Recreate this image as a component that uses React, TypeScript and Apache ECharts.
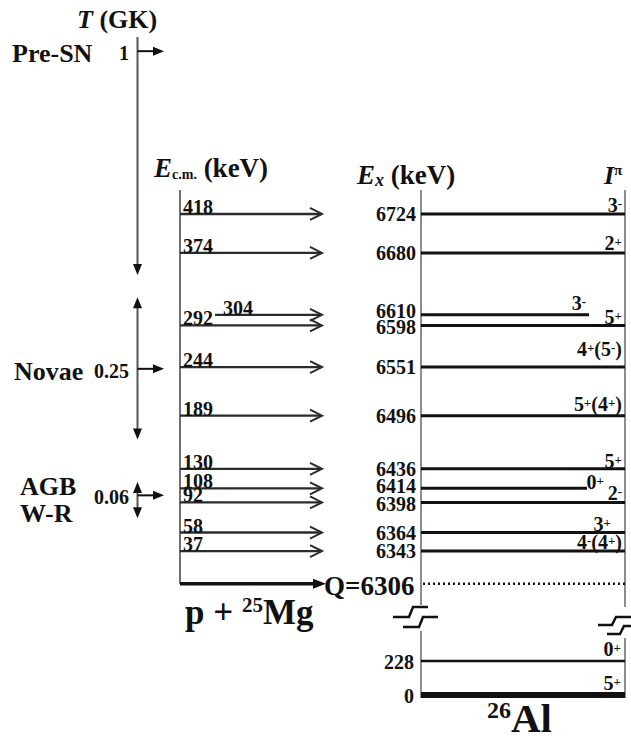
import React, { useEffect, useRef } from "react";
import * as echarts from "echarts";

// ---------------- data ----------------
const qValue = 6306; // p + 25Mg threshold in 26Al (keV)
const levelEx = [6724, 6680, 6610, 6598, 6551, 6496, 6436, 6414, 6398, 6364, 6343];
const levelSpin = ["3-", "2+", "3-", "5+", "4+(5-)", "5+(4+)", "5+", "0+", "2-", "3+", "4-(4+)"];
const resonanceEcm = [418, 374, 304, 292, 244, 189, 130, 108, 92, 58, 37];
const lowEx = [228, 0];
const lowSpin = ["0+", "5+"];
const siteNames = ["Pre-SN", "Novae", "AGB\nW-R"];
const siteTemps = ["1", "0.25", "0.06"];
const gamowEcm = [602, 243, 100];
const windowHighEcm = [618, 324, 115];
const windowLowEcm = [349, 163, 74];

// ---------------- layout / style ----------------
const FONT = '"Liberation Serif", "Times New Roman", Times, serif';
const font = (size: number, italic = false) => `${italic ? "italic " : ""}bold ${size}px ${FONT}`;
const INK = "#111";
const ARROW = "#2b2b2b";
const FRAME = "#707070";

const X = {
  tAxis: 137.5,
  tTip: 164,
  tLabelRight: 129,
  ecmAxis: 180,
  arrowTip: 322,
  exAxis: 421,
  exLabelRight: 416,
  qTip: 326,
  qLabelLeft: 324,
  dotStart: 423,
  dotEnd: 625,
  lowLabelRight: 414,
  lowSpinRight: 621,
};

type LevelLayout = {
  end: number;
  spinRight: number;
  spinDy: number;
  exDy: number;
  ecmLeft: number;
  arrowStart: number;
};
const levelDefault: LevelLayout = { end: 625, spinRight: 622, spinDy: -9, exDy: 0, ecmLeft: 183, arrowStart: 180 };
const levelOverrides: Record<number, Partial<LevelLayout>> = {
  1: { spinDy: -10 },
  2: { end: 589, spinRight: 586, spinDy: -12, exDy: -4, ecmLeft: 223, arrowStart: 215 },
  3: { spinDy: -8, exDy: 2 },
  4: { spinDy: -18 },
  5: { spinDy: -12 },
  6: { spinDy: -8 },
  7: { end: 587, spinRight: 604, spinDy: -6, exDy: -2 },
  8: { exDy: 1.5 },
  9: { spinRight: 611 },
};
const lay = (i: number): LevelLayout => ({ ...levelDefault, ...(levelOverrides[i] || {}) });

const siteLeft = [12, 14, 20];
const siteDy = [2, 3, 5];
const siteTopHead = [false, true, true];
const lowLineWidth = [2.5, 6];

function spinRich(s: string) {
  let out = "";
  let buf = "";
  const flush = () => {
    if (buf) out += `{n|${buf}}`;
    buf = "";
  };
  for (const ch of s) {
    if (ch === "+" || ch === "-") {
      flush();
      out += `{s|${ch}}`;
    } else buf += ch;
  }
  flush();
  return out;
}
const SPIN_RICH = {
  n: { font: font(20), fill: INK, lineHeight: 16 },
  s: { font: font(13), fill: INK, verticalAlign: "top", lineHeight: 16 },
};

const arrowHeadFilled = (tipX: number, tipY: number, dir: "right" | "down" | "up", len = 11, half = 4) => {
  let pts: number[][];
  if (dir === "right") pts = [[tipX - len, tipY - half], [tipX, tipY], [tipX - len, tipY + half]];
  else if (dir === "down") pts = [[tipX - half, tipY - len], [tipX, tipY], [tipX + half, tipY - len]];
  else pts = [[tipX - half, tipY + len], [tipX, tipY], [tipX + half, tipY + len]];
  return { type: "polygon", shape: { points: pts }, style: { fill: INK } };
};

export default function App() {
  const ref = useRef<HTMLDivElement>(null);

  useEffect(() => {
    if (!ref.current) return;
    const chart = echarts.init(ref.current, undefined, { renderer: "svg" });

    const option: any = {
      animation: false,
      backgroundColor: "#fff",
      grid: [
        { left: 0, top: 14, width: 631, height: 584 },
        { left: 0, top: 645.8, width: 631, height: 53.7 },
      ],
      xAxis: [
        { type: "value", gridIndex: 0, min: 0, max: 631, show: false },
        { type: "value", gridIndex: 1, min: 0, max: 631, show: false },
      ],
      yAxis: [
        { type: "value", gridIndex: 0, min: 6290, max: 6950, show: false },
        { type: "value", gridIndex: 1, min: -30, max: 330, show: false },
      ],
      series: [
        // excited levels of 26Al
        {
          type: "custom",
          xAxisIndex: 0,
          yAxisIndex: 0,
          silent: true,
          data: levelEx.map((ex) => [0, ex]),
          renderItem: (params: any, api: any) => {
            const i = params.dataIndex;
            const L = lay(i);
            const ex = api.value(1);
            const [x0, y] = api.coord([X.exAxis, ex]);
            const [x1] = api.coord([L.end, ex]);
            return {
              type: "group",
              children: [
                { type: "line", shape: { x1: x0, y1: y, x2: x1, y2: y }, style: { stroke: INK, lineWidth: 3 } },
                {
                  type: "text",
                  x: X.exLabelRight,
                  y: y + L.exDy,
                  style: {
                    text: String(ex),
                    font: font(20),
                    lineHeight: 14,
                    fill: INK,
                    textAlign: "right",
                    textVerticalAlign: "middle",
                  },
                },
                {
                  type: "text",
                  x: L.spinRight,
                  y: y + L.spinDy,
                  style: {
                    text: spinRich(levelSpin[i]),
                    rich: SPIN_RICH,
                    font: font(20),
                    fill: INK,
                    textAlign: "right",
                    textVerticalAlign: "middle",
                  },
                },
              ],
            };
          },
        },
        // resonance arrows (E c.m.)
        {
          type: "custom",
          xAxisIndex: 0,
          yAxisIndex: 0,
          silent: true,
          data: resonanceEcm.map((e, i) => [e, levelEx[i]]),
          renderItem: (params: any, api: any) => {
            const i = params.dataIndex;
            const L = lay(i);
            const ecm = api.value(0);
            const ex = api.value(1);
            const [xs, y] = api.coord([L.arrowStart, ex]);
            const [xt] = api.coord([X.arrowTip, ex]);
            return {
              type: "group",
              children: [
                { type: "line", shape: { x1: xs, y1: y, x2: xt - 1, y2: y }, style: { stroke: ARROW, lineWidth: 2.3 } },
                {
                  type: "polyline",
                  shape: { points: [[xt - 12, y - 6], [xt, y], [xt - 12, y + 6]] },
                  style: { stroke: ARROW, lineWidth: 2, fill: null },
                },
                {
                  type: "text",
                  x: L.ecmLeft,
                  y: y - 7,
                  style: {
                    text: String(ecm),
                    font: font(20),
                    lineHeight: 14,
                    fill: INK,
                    textAlign: "left",
                    textVerticalAlign: "middle",
                  },
                },
              ],
            };
          },
        },
        // Q value: arrow, label, dotted threshold line
        {
          type: "custom",
          xAxisIndex: 0,
          yAxisIndex: 0,
          silent: true,
          data: [[0, qValue]],
          renderItem: (params: any, api: any) => {
            const q = api.value(1);
            const [xa, y] = api.coord([X.ecmAxis, q]);
            const [xt] = api.coord([X.qTip, q]);
            const [xd0] = api.coord([X.dotStart, q]);
            const [xd1] = api.coord([X.dotEnd, q]);
            return {
              type: "group",
              children: [
                { type: "line", shape: { x1: xa, y1: y, x2: xt - 10, y2: y }, style: { stroke: INK, lineWidth: 3.5 } },
                arrowHeadFilled(xt, y, "right", 13, 5),
                {
                  type: "text",
                  x: X.qLabelLeft,
                  y: y + 2,
                  style: { text: "Q=" + q, font: font(27), fill: INK, textAlign: "left", textVerticalAlign: "middle" },
                },
                {
                  type: "line",
                  shape: { x1: xd0, y1: y, x2: xd1, y2: y },
                  style: { stroke: INK, lineWidth: 2.5, lineDash: [2, 3] },
                },
              ],
            };
          },
        },
        // Gamow windows / temperatures
        {
          type: "custom",
          xAxisIndex: 0,
          yAxisIndex: 0,
          silent: true,
          data: gamowEcm.map((g, i) => [0, qValue + g, qValue + windowHighEcm[i], qValue + windowLowEcm[i]]),
          renderItem: (params: any, api: any) => {
            const i = params.dataIndex;
            const [xa, yc] = api.coord([X.tAxis, api.value(1)]);
            const [, yHi] = api.coord([X.tAxis, api.value(2)]);
            const [, yLo] = api.coord([X.tAxis, api.value(3)]);
            const [xt] = api.coord([X.tTip, api.value(1)]);
            const children: any[] = [
              {
                type: "line",
                shape: { x1: xa, y1: yHi + (siteTopHead[i] ? 4 : 0), x2: xa, y2: yLo - 4 },
                style: { stroke: "#555", lineWidth: 2 },
              },
              arrowHeadFilled(xa, yLo, "down", 11, 4.5),
              { type: "line", shape: { x1: xa, y1: yc, x2: xt - 8, y2: yc }, style: { stroke: INK, lineWidth: 2 } },
              arrowHeadFilled(xt, yc, "right", 11, 4.5),
              {
                type: "text",
                x: X.tLabelRight,
                y: yc + 2,
                style: { text: siteTemps[i], font: font(20), fill: INK, textAlign: "right", textVerticalAlign: "middle" },
              },
              {
                type: "text",
                x: siteLeft[i],
                y: yc + siteDy[i],
                style: {
                  text: siteNames[i],
                  font: font(26),
                  fill: INK,
                  lineHeight: 27,
                  textAlign: "left",
                  textVerticalAlign: "middle",
                },
              },
            ];
            if (siteTopHead[i]) children.push(arrowHeadFilled(xa, yHi, "up", 11, 4.5));
            return { type: "group", children };
          },
        },
        // ground-state region levels
        {
          type: "custom",
          xAxisIndex: 1,
          yAxisIndex: 1,
          silent: true,
          data: lowEx.map((e) => [0, e]),
          renderItem: (params: any, api: any) => {
            const i = params.dataIndex;
            const e = api.value(1);
            const [x0, y] = api.coord([X.exAxis, e]);
            const [x1] = api.coord([levelDefault.end, e]);
            return {
              type: "group",
              children: [
                { type: "line", shape: { x1: x0, y1: y, x2: x1, y2: y }, style: { stroke: INK, lineWidth: lowLineWidth[i] } },
                {
                  type: "text",
                  x: X.lowLabelRight,
                  y: y + 1,
                  style: { text: String(e), font: font(20), fill: INK, textAlign: "right", textVerticalAlign: "middle" },
                },
                {
                  type: "text",
                  x: X.lowSpinRight,
                  y: y - 12.5,
                  style: {
                    text: spinRich(lowSpin[i]),
                    rich: SPIN_RICH,
                    font: font(20),
                    fill: INK,
                    textAlign: "right",
                    textVerticalAlign: "middle",
                  },
                },
              ],
            };
          },
        },
      ],
      graphic: [
        // frames
        { type: "line", shape: { x1: 180, y1: 190, x2: 180, y2: 584 }, style: { stroke: FRAME, lineWidth: 2 } },
        { type: "line", shape: { x1: 421, y1: 190, x2: 421, y2: 605 }, style: { stroke: FRAME, lineWidth: 1.6 } },
        { type: "line", shape: { x1: 421, y1: 631, x2: 421, y2: 698 }, style: { stroke: FRAME, lineWidth: 1.6 } },
        { type: "line", shape: { x1: 625, y1: 190, x2: 625, y2: 607 }, style: { stroke: FRAME, lineWidth: 1.6 } },
        { type: "line", shape: { x1: 625, y1: 638, x2: 625, y2: 698 }, style: { stroke: FRAME, lineWidth: 1.6 } },
        // break symbols
        {
          type: "polyline",
          shape: { points: [[393, 617], [409, 617], [413, 607], [428, 607]] },
          style: { stroke: INK, lineWidth: 2.5, fill: null },
        },
        {
          type: "polyline",
          shape: { points: [[403, 627], [419, 627], [423, 617], [438, 617]] },
          style: { stroke: INK, lineWidth: 2.5, fill: null },
        },
        {
          type: "polyline",
          shape: { points: [[598, 625], [612, 625], [616, 617], [632, 617]] },
          style: { stroke: INK, lineWidth: 2.5, fill: null },
        },
        {
          type: "polyline",
          shape: { points: [[607, 634], [620, 634], [624, 626], [632, 626]] },
          style: { stroke: INK, lineWidth: 2.5, fill: null },
        },
        // titles
        {
          type: "text",
          x: 77,
          y: 19,
          style: {
            text: "{i|T}{b| (GK)}",
            rich: { i: { font: font(26, true), fill: INK }, b: { font: font(26), fill: INK } },
            font: font(26),
            textAlign: "left",
            textVerticalAlign: "middle",
          },
        },
        {
          type: "text",
          x: 154,
          y: 168,
          style: {
            text: "{i|E}{sub|c.m.}{b| (keV)}",
            rich: {
              i: { font: font(27, true), fill: INK },
              sub: { font: font(14), fill: INK, verticalAlign: "bottom" },
              b: { font: font(27), fill: INK },
            },
            font: font(27),
            textAlign: "left",
            textVerticalAlign: "middle",
          },
        },
        {
          type: "text",
          x: 357,
          y: 175,
          style: {
            text: "{i|E}{sub|x}{b| (keV)}",
            rich: {
              i: { font: font(27, true), fill: INK },
              sub: { font: font(18, true), fill: INK, verticalAlign: "bottom" },
              b: { font: font(27), fill: INK },
            },
            font: font(27),
            textAlign: "left",
            textVerticalAlign: "middle",
          },
        },
        {
          type: "text",
          x: 604,
          y: 175,
          style: {
            text: "{i|I}{sup|π}",
            rich: {
              i: { font: font(26, true), fill: INK },
              sup: { font: font(15), fill: INK, verticalAlign: "top" },
            },
            font: font(26),
            textAlign: "left",
            textVerticalAlign: "middle",
          },
        },
        {
          type: "text",
          x: 185,
          y: 612,
          style: {
            text: "{b|p + }{sup|25}{b|Mg}",
            rich: {
              b: { font: font(35), fill: INK },
              sup: { font: font(21), fill: INK, verticalAlign: "top" },
            },
            font: font(35),
            textAlign: "left",
            textVerticalAlign: "middle",
          },
        },
        {
          type: "text",
          x: 487,
          y: 718,
          style: {
            text: "{sup|26}{b|Al}",
            rich: {
              b: { font: font(41), fill: INK },
              sup: { font: font(24), fill: INK, verticalAlign: "top" },
            },
            font: font(41),
            textAlign: "left",
            textVerticalAlign: "middle",
          },
        },
      ],
    };

    chart.setOption(option);
    return () => chart.dispose();
  }, []);

  return (
    <div
      ref={ref}
      style={{ position: "absolute", left: 0, top: 0, width: 631, height: 740, background: "#fff" }}
    />
  );
}
